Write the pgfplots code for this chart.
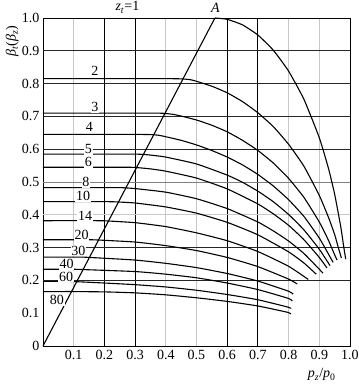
\documentclass[border=0pt]{standalone}
\usepackage{fontspec}
\setmainfont{Liberation Serif}
\usepackage{pgfplots}
\pgfplotsset{compat=1.18}
\begin{document}
\fontsize{13.5}{15}\selectfont
\begin{tikzpicture}
\begin{axis}[
  scale only axis, width=307pt, height=328pt,
  xmin=0, xmax=1, ymin=0, ymax=1,
  axis line style={black, line width=0.8pt},
  xtick={0.1,0.2,0.3,0.4,0.5,0.6,0.7,0.8,0.9,1.0},
  xticklabels={0.1,0.2,0.3,0.4,0.5,0.6,0.7,0.8,0.9,1.0},
  ytick={0,0.1,0.2,0.3,0.4,0.5,0.6,0.7,0.8,0.9,1.0},
  yticklabels={0,0.1,0.2,0.3,0.4,0.5,0.6,0.7,0.8,0.9,1.0},
  major tick length=0pt,
  tick label style={font=\fontsize{14}{15}\selectfont},
  xticklabel style={yshift=1pt},
  yticklabel style={xshift=1pt},
  /pgf/number format/assume math mode=true,
  clip=false,
  crv/.style={black, solid, line width=1.1pt, mark=none, smooth, tension=0.3},
]
% grid
\pgfplotsinvokeforeach{0.1,0.4,0.5,0.8,0.9}{
  \draw[black!22, line width=0.8pt] (axis cs:#1,0) -- (axis cs:#1,1);}
\pgfplotsinvokeforeach{0.2,0.3,0.6,0.7}{
  \draw[black, line width=0.8pt] (axis cs:#1,0) -- (axis cs:#1,1);}
\draw[black!22, line width=0.8pt] (axis cs:0,0.4) -- (axis cs:1,0.4);
\draw[black!50, line width=0.8pt] (axis cs:0,0.5) -- (axis cs:1,0.5);
\pgfplotsinvokeforeach{0.2,0.3,0.6,0.7,0.8,0.9}{
  \draw[black!85, line width=0.8pt] (axis cs:0,#1) -- (axis cs:1,#1);}
\draw[black, line width=0.8pt] (axis cs:0,1) -- (axis cs:1,1) -- (axis cs:1,0);

% diagonal
\addplot[black, solid, line width=1.1pt, mark=none] coordinates {(0,0) (0.56,1.0)};
% z=1
\addplot[crv] coordinates {(0.56,1.0) (0.60,0.996) (0.65,0.979) (0.70,0.948) (0.75,0.902) (0.80,0.838) (0.85,0.752) (0.90,0.635) (0.93,0.541) (0.95,0.463) (0.97,0.363) (0.98,0.300) (0.986,0.265)};
% z=2
\addplot[crv] coordinates {(0,0.815) (0.41,0.815) (0.456,0.814) (0.48,0.812) (0.5,0.807) (0.55,0.792) (0.6,0.772) (0.65,0.745) (0.7,0.711) (0.75,0.669) (0.8,0.615) (0.85,0.548) (0.9,0.459) (0.93,0.392) (0.95,0.340) (0.962,0.300) (0.972,0.268)};
% z=3
\addplot[crv] coordinates {(0,0.71) (0.36,0.71) (0.398,0.709) (0.425,0.706) (0.45,0.701) (0.5,0.689) (0.55,0.673) (0.6,0.653) (0.65,0.627) (0.7,0.596) (0.75,0.558) (0.8,0.511) (0.85,0.453) (0.9,0.378) (0.93,0.322) (0.95,0.278) (0.958,0.262)};
% z=4
\addplot[crv] coordinates {(0,0.645) (0.32,0.645) (0.361,0.644) (0.38,0.642) (0.4,0.638) (0.45,0.627) (0.5,0.613) (0.55,0.596) (0.6,0.576) (0.65,0.552) (0.7,0.523) (0.75,0.488) (0.8,0.446) (0.85,0.395) (0.9,0.329) (0.93,0.280) (0.945,0.255)};
% z=5
\addplot[crv] coordinates {(0,0.585) (0.29,0.585) (0.328,0.584) (0.36,0.581) (0.4,0.576) (0.5,0.555) (0.6,0.521) (0.65,0.499) (0.7,0.472) (0.75,0.440) (0.8,0.401) (0.85,0.354) (0.9,0.295) (0.935,0.245)};
% z=6
\addplot[crv] coordinates {(0,0.545) (0.27,0.545) (0.305,0.544) (0.35,0.540) (0.4,0.533) (0.5,0.512) (0.6,0.479) (0.7,0.433) (0.75,0.403) (0.8,0.368) (0.85,0.324) (0.9,0.270) (0.925,0.238)};
% z=8
\addplot[crv] coordinates {(0,0.483) (0.24,0.483) (0.27,0.482) (0.3,0.480) (0.4,0.469) (0.5,0.449) (0.6,0.419) (0.7,0.378) (0.75,0.351) (0.8,0.320) (0.85,0.282) (0.9,0.234) (0.912,0.222)};
% z=10
\addplot[crv] coordinates {(0,0.44) (0.21,0.44) (0.246,0.439) (0.3,0.436) (0.4,0.424) (0.5,0.405) (0.6,0.377) (0.7,0.339) (0.8,0.287) (0.85,0.253) (0.89,0.219)};
% z=14
\addplot[crv] coordinates {(0,0.382) (0.18,0.382) (0.214,0.381) (0.3,0.376) (0.4,0.364) (0.5,0.345) (0.6,0.321) (0.7,0.288) (0.8,0.243) (0.864,0.203)};
% z=20
\addplot[crv] coordinates {(0,0.324) (0.15,0.324) (0.182,0.323) (0.3,0.317) (0.4,0.306) (0.5,0.291) (0.6,0.270) (0.7,0.242) (0.8,0.204) (0.828,0.189)};
% z=30
\addplot[crv] coordinates {(0,0.271) (0.12,0.271) (0.152,0.270) (0.3,0.262) (0.4,0.252) (0.5,0.239) (0.6,0.221) (0.7,0.198) (0.8,0.167) (0.815,0.158)};
% z=40
\addplot[crv] coordinates {(0,0.234) (0.1,0.234) (0.131,0.233) (0.3,0.227) (0.4,0.219) (0.5,0.208) (0.6,0.192) (0.7,0.172) (0.8,0.145) (0.812,0.137)};
% z=60
\addplot[crv] coordinates {(0,0.197) (0.08,0.197) (0.111,0.196) (0.2,0.192) (0.3,0.187) (0.4,0.180) (0.5,0.170) (0.6,0.157) (0.7,0.141) (0.8,0.118) (0.807,0.114)};
% z=80
\addplot[crv] coordinates {(0,0.166) (0.07,0.166) (0.093,0.166) (0.2,0.165) (0.3,0.162) (0.4,0.156) (0.5,0.147) (0.6,0.136) (0.7,0.122) (0.8,0.102) (0.805,0.097)};

% labels
\tikzset{lab/.style={fill=white, inner sep=0.8pt, font=\fontsize{14}{15}\selectfont}}
\node[lab] at (axis cs:0.169,0.839) {2};
\node[lab] at (axis cs:0.169,0.728) {3};
\node[lab] at (axis cs:0.151,0.667) {4};
\node[lab] at (axis cs:0.148,0.600) {5};
\node[lab] at (axis cs:0.148,0.560) {6};
\node[lab] at (axis cs:0.140,0.499) {8};
\node[lab] at (axis cs:0.131,0.457) {10};
\node[lab] at (axis cs:0.137,0.396) {14};
\node[lab] at (axis cs:0.126,0.338) {20};
\node[lab] at (axis cs:0.115,0.291) {30};
\node[lab] at (axis cs:0.077,0.250) {40};
\node[lab] at (axis cs:0.075,0.211) {60};
\node[lab] at (axis cs:0.045,0.140) {80};
\node[inner sep=0pt, font=\fontsize{14}{15}\selectfont] at (axis cs:0.275,1.032) {\textit{z}\textsubscript{\textit{t}}=1};
\node[inner sep=0pt, font=\fontsize{14}{15}\selectfont] at (axis cs:0.562,1.032) {\textit{A}};
\node[inner sep=0pt, rotate=90, font=\fontsize{14}{15}\selectfont] at (rel axis cs:-0.10,0.93) {\textit{β}\textsubscript{\textit{t}}(\textit{β}\textsubscript{\textit{z}})};
\node[inner sep=0pt, font=\fontsize{14}{15}\selectfont] at (rel axis cs:0.908,-0.088) {\textit{p}\textsubscript{\textit{z}}/\textit{p}\textsubscript{0}};
\end{axis}
\pgfresetboundingbox
\useasboundingbox ([shift={(-43pt,-38pt)}]current axis.south west) rectangle ([shift={(9pt,18pt)}]current axis.north east);
\end{tikzpicture}
\end{document}
